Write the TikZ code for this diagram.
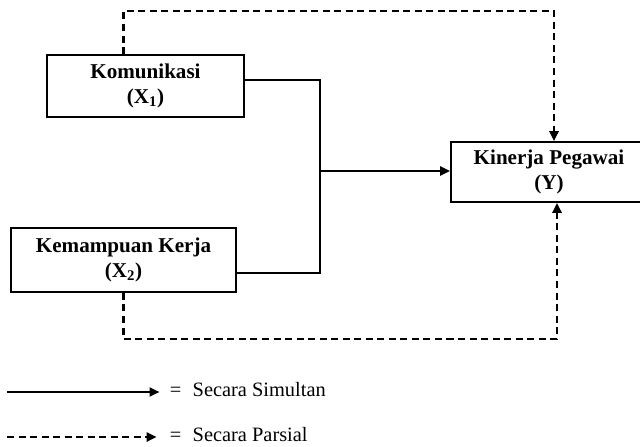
\documentclass[tikz,border=0pt]{standalone}
\usepackage{fontspec}
\setmainfont{Liberation Serif}
\usetikzlibrary{arrows.meta}
\tikzset{
  var/.style={draw, line width=1.3pt, align=center, inner sep=0pt,
    font=\fontsize{15}{17.5}\selectfont\bfseries,
    execute at begin node=\rule{0pt}{16pt}},
  simline/.style={line width=1.2pt},
  simul/.style={line width=1.2pt, -{Triangle[length=7pt,width=6.5pt]}},
  parsial/.style={line width=1.5pt, dash pattern=on 5pt off 3.2pt,
    -{Triangle[length=7pt,width=6.5pt]}},
  legend/.style={anchor=west, font=\fontsize{14.5}{16}\selectfont}
}
\begin{document}
\begin{tikzpicture}[x=0.025cm, y=-0.025cm]
      \clip (0,0) rectangle (640,447);
      \node[var, minimum width=4.925cm, minimum height=1.55cm] (kom) at (145.5,86)
        {Komunikasi\\(X\textsubscript{1})};
      \node[var, minimum width=5.625cm, minimum height=1.6cm] (kem) at (123.5,260)
        {Kemampuan Kerja\\(X\textsubscript{2})};
      \node[var, minimum width=4.9cm, minimum height=1.5cm] (kin) at (549,172)
        {Kinerja Pegawai\\(Y)};
      \coordinate (joint) at (320,171);
      % simultan
      \draw[simline] ([yshift=0.15cm]kom.east) -| (joint) |- ([yshift=-0.325cm]kem.east);
      \draw[simul] (joint) -- (kin.west |- joint);
      % parsial
      \draw[parsial] (kom.north -| kem.south) -- ++(0,-43) -| ([xshift=0.125cm]kin.north);
      \draw[parsial] (kem.south) -- ++(0,46) -| ([xshift=0.2cm]kin.south);
      % keterangan
      \coordinate (lsa) at (7,392);
      \coordinate (lpa) at (7,437);
      \node[legend] (lsim) at (165,390) {=\hspace{0.55em}Secara Simultan};
      \node[legend] (lpar) at (165,435) {=\hspace{0.55em}Secara Parsial};
      \draw[simul, shorten >=4pt] (lsa) -- (lsim.west |- lsa);
      \draw[parsial, shorten >=6pt] (lpa) -- (lpar.west |- lpa);
\end{tikzpicture}
\end{document}
